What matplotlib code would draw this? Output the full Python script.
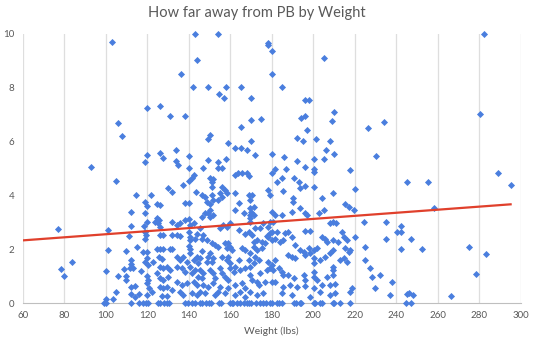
import numpy as np
import matplotlib
matplotlib.use("Agg")
from matplotlib import pyplot as plt

# (weight lbs, distance from PB) pairs, grouped roughly by height
upper_pts = [
    (102.9, 9.69), (119.8, 7.24), (105.8, 6.68), (107.8, 6.2), (119.8, 5.49), (119, 5.23), (92.8, 5.07),
    (143.1, 10), (154, 10), (143.9, 9.02), (136.2, 8.51), (142, 8.02), (149.2, 8.02), (158, 8.02),
    (165.3, 8.02), (154.8, 7.76), (157, 7.61), (169.9, 7.61), (126.1, 7.31), (130.9, 6.94), (138.3, 6.94),
    (169.9, 6.8), (174.8, 6.84), (165.3, 6.53), (150.3, 6.23), (149.2, 6.08), (158.8, 5.94), (169.9, 6.01),
    (162.4, 5.75), (165.3, 5.75), (168, 5.68), (172, 5.49), (126.1, 5.56), (127.5, 5.38), (133.9, 5.68),
    (133.9, 5.27), (135, 5.12), (140, 5.45), (149.2, 5.3), (154, 5.23), (158, 5.34), (140, 5.02),
    (146.8, 5.02), (154, 5.02), (156, 5.02),
    (178.1, 9.68), (178.1, 9.6), (180, 9.36), (205.3, 9.1), (180, 8.51), (184.9, 8.02), (196, 7.53),
    (198, 7.53), (210.1, 7.09), (194, 6.87), (196.1, 6.94), (209.1, 6.77), (197, 6.42), (192.1, 6.12),
    (195, 6.01), (201.4, 6.08), (208, 6.01), (206.2, 5.68), (210.1, 5.53), (180, 5.53), (185.8, 5.42),
    (192.1, 5.27), (200.3, 5.34), (205.3, 5.34), (181.6, 5.0), (186.8, 5.0), (196, 5.07), (200.3, 5.0),
    (217.8, 4.94), (226.3, 6.49), (234, 6.72), (230.2, 5.45), (282.4, 10), (280.3, 7.01),
    (200.1, 4.88), (245.1, 4.49), (255.2, 4.49), (288.8, 4.82), (295.2, 4.38),
]

# light side, under 145 lbs
light_pts = [
    (105, 4.52), (114.5, 4.01), (119, 3.74), (119.8, 3.6), (112.1, 3.37), (112.1, 2.85), (119.8, 3.0),
    (118.5, 2.85), (76.9, 2.74), (101, 2.7), (111.1, 2.48), (119.1, 2.37), (101, 1.96), (109.7, 1.92),
    (115, 2.07), (118.1, 1.88), (119.8, 1.88), (83.7, 1.52), (78.7, 1.26), (79.8, 0.99), (100, 1.19),
    (112.1, 1.6), (112.1, 1.46), (108.9, 1.26), (111.8, 1.31), (113.1, 1.31), (105.8, 1.0), (109.7, 1.0),
    (109.7, 0.86), (116.9, 1.19), (119.8, 1.0), (120.3, 0.87), (112.1, 0.6), (114.2, 0.64), (119.8, 0.73),
    (120.8, 0.55), (105, 0.4), (112.1, 0.32), (114.2, 0.24), (116.1, 0.32), (100, 0.14), (103.7, 0.14),
    (119, 2.65), (119.5, 2.53), (119.8, 1.66), (119, 1.54), (120.6, 1.41), (119.8, 0.3), (118.7, 3.33),
    (142.6, 4.76), (141.5, 4.64), (139.9, 4.55), (137.4, 4.39), (129.9, 4.26), (131.9, 4.12), (121.9, 4.01),
    (143.4, 4.12), (124.6, 3.7), (126.2, 3.64), (138.3, 3.73), (139.9, 3.73), (124.6, 3.15), (125.9, 3.09),
    (123.8, 3.02), (125.4, 2.96), (126.2, 2.84), (131.9, 3.02), (135.9, 2.96), (134.3, 2.9), (138.3, 3.09),
    (139.9, 3.11), (140.7, 2.9), (142.3, 2.96), (126.2, 2.53), (127.8, 2.53), (131.9, 2.53), (134.3, 2.53),
    (135.9, 2.49), (139.9, 2.65), (140.7, 2.44), (140.4, 2.34), (143.9, 2.57), (143.1, 2.4), (124.6, 2.0),
    (126.2, 2.0), (127.8, 2.0), (131, 2.0), (131.9, 2.0), (139.9, 2.12), (140.7, 2.0), (140.7, 1.85),
    (125.9, 1.7), (127, 1.64), (134.3, 1.72), (135.9, 1.6), (137.4, 1.72), (139.1, 1.54), (142.3, 1.6),
    (143.9, 1.72), (144.7, 1.48), (123, 1.54), (126.2, 1.35), (127.8, 1.29), (129.4, 1.35), (131, 1.23),
    (134.3, 1.35), (136.7, 1.29), (138.3, 1.16), (140.7, 1.35), (141.5, 1.1), (143.1, 1.23), (144.7, 0.98),
    (124.6, 1.1), (126.2, 0.92), (127.8, 0.86), (130.2, 0.98), (134.3, 0.79), (136.7, 0.67), (139.1, 0.73),
    (142.3, 0.79), (143.9, 0.67), (126.2, 0.61), (127.8, 0.55), (129.4, 0.61), (131.9, 0.48), (122.2, 0.42),
    (135.9, 0.42), (137.4, 0.3), (141.5, 0.36), (143.9, 0.3), (127, 0.26), (129.4, 0.26),
]

# middle band, 145-170 lbs
mid_pts = [
    (150.3, 4.64), (151.9, 4.61), (151.4, 4.51), (162.4, 4.76), (163.7, 4.84), (165.6, 4.82), (168, 4.82),
    (168.8, 4.72), (156, 4.32), (157.5, 4.2), (158.4, 4.08), (155.1, 4.08), (156, 3.95), (151.1, 4.32),
    (151.1, 4.01), (150.3, 3.7), (151.9, 3.83), (154.3, 3.83), (146.3, 4.01), (147.9, 3.95), (148.7, 3.77),
    (150.3, 3.46), (149.5, 3.33), (147.9, 3.33), (150.3, 3.21), (151.9, 3.27), (146.3, 3.21), (162.4, 4.08),
    (164, 3.73), (162.4, 3.46), (166.4, 3.33), (168.8, 4.01), (169.6, 3.52), (169.6, 3.27), (169.6, 3.15),
    (156.7, 2.9), (160, 2.96), (155.1, 2.78), (158.4, 2.84), (164, 2.71), (168.8, 2.65), (167.2, 2.57),
    (147.1, 2.53), (146.3, 2.4), (148.7, 2.34), (151.1, 2.22), (152.7, 2.16), (154.3, 2.09), (157.5, 2.22),
    (159.1, 2.22), (160, 2.09), (158.4, 2.03), (160.8, 1.97), (165.6, 2.03), (167.2, 1.97), (146.3, 1.94),
    (145.5, 1.66), (150.3, 1.85), (149.5, 1.72), (151.9, 1.66), (151.1, 1.54), (148.7, 1.54), (156, 1.72),
    (159.1, 1.72), (158.4, 1.6), (160, 1.48), (162.4, 1.35), (164, 1.6), (168.8, 1.6), (145.5, 1.23),
    (147.1, 1.1), (146.3, 0.92), (150.3, 1.23), (151.9, 1.1), (152.7, 0.92), (155.1, 1.29), (156, 1.1),
    (157.5, 0.98), (159.1, 0.86), (160, 1.29), (161.6, 1.16), (164.8, 1.23), (167.2, 1.29), (169.6, 1.04),
    (147.1, 0.67), (149.5, 0.61), (151.9, 0.73), (155.1, 0.61), (159.1, 0.55), (162.4, 0.67), (165.6, 0.73),
    (167.2, 0.55), (145.5, 0.42), (147.9, 0.36), (152.7, 0.3), (154.3, 0.42), (157.5, 0.36), (162.4, 0.3),
    (164.8, 0.42), (167.2, 0.24), (145.5, 2.78),
]

# heavy side, 170 lbs and up
heavy_pts = [
    (170.4, 4.01), (169.6, 3.83), (171.2, 3.58), (170.1, 3.4), (171.2, 3.27), (169.6, 3.02), (172, 2.78),
    (174.4, 2.78), (170.4, 2.53), (172.8, 2.34), (171.2, 2.28), (171.2, 2.09), (172.8, 1.97), (169.6, 1.85),
    (172, 1.72), (173.6, 1.6), (171.2, 1.48), (169.6, 1.35), (170.4, 0.86), (172.8, 0.79), (169.6, 0.42),
    (172.8, 0.3), (174.4, 1.1), (173.6, 0.67), (175.2, 2.03),
    (180, 4.82), (184.9, 4.64), (182.5, 4.51), (178.4, 4.2), (179.2, 4.01), (185.6, 4.17), (190.5, 4.64),
    (192.9, 4.51), (196.1, 4.35), (193.4, 4.26), (200.1, 4.32), (190.2, 3.89), (190.2, 3.77), (193.7, 3.52),
    (189.7, 3.4), (196.1, 3.33), (196.9, 3.27), (204.1, 3.89), (209.7, 4.08), (205.3, 3.46), (202.5, 3.33),
    (215.4, 3.7), (217, 3.58), (219.4, 3.46), (220.2, 4.23), (180, 3.4), (181.6, 3.27), (184.9, 3.27),
    (179.2, 3.02), (180.8, 3.02), (176, 2.98), (178.4, 2.84), (208.1, 2.98), (209.7, 3.02), (211, 2.98),
    (224.2, 3.02), (235.1, 3.02), (240.3, 2.65), (235.1, 2.4), (196.1, 2.69), (198.5, 2.69), (188, 2.65),
    (186.5, 2.61), (182.5, 2.65), (180, 2.65), (179.2, 2.59), (177.6, 2.49), (178.4, 2.46), (175.2, 2.28),
    (176.8, 2.22), (180, 2.34), (181.6, 2.4), (184, 2.28), (185.6, 2.34), (189.7, 2.46), (191.3, 2.16),
    (193.7, 1.97), (195.3, 1.91), (197.7, 2.03), (200.1, 1.97), (201.7, 2.03), (204.1, 2.46), (205.7, 2.4),
    (206.5, 2.28), (209.7, 2.34), (212.1, 2.28), (213.8, 2.65), (214.6, 2.46), (216.2, 2.34), (215.4, 2.03),
    (217, 1.91), (217.8, 1.97), (220.2, 2.46), (225, 2.09), (225, 1.6), (227.1, 1.29), (228.2, 0.98),
    (232.2, 1.04), (229.8, 0.55), (237.1, 0.3), (237.9, 0.79),
    (178.4, 1.54), (180, 1.41), (181.6, 1.6), (179.2, 1.29), (177.6, 1.23), (180.8, 1.23), (183.3, 1.29),
    (184.9, 1.16), (185.6, 1.04), (188, 1.78), (189.7, 1.72), (191.3, 1.66), (196.1, 1.78), (198.5, 1.85),
    (200.1, 1.66), (203.3, 1.6), (205.7, 1.72), (208.1, 1.85), (209.7, 1.97), (200.1, 1.48), (200.1, 1.16),
    (209.7, 1.35), (209.7, 1.23), (212.9, 1.6), (214.6, 1.66), (216.2, 1.54), (188, 1.04), (190.5, 0.92),
    (195.3, 1.04), (196.1, 0.86), (200.1, 0.98), (201.7, 0.86), (206.5, 0.98), (209.7, 1.04), (176.8, 0.79),
    (180, 0.79), (181.6, 0.79), (185.6, 0.61), (188.9, 0.67), (192.1, 0.61), (196.1, 0.63), (200.1, 0.55),
    (204.1, 0.67), (208.1, 0.67), (210.6, 0.71), (217.8, 0.42), (218.6, 0.55), (176, 0.36), (184.9, 0.36),
    (189.7, 0.3), (198.5, 0.24), (203.3, 0.42), (208.1, 0.3), (210.6, 0.36),
    (258.1, 3.52), (242.2, 2.85), (242.2, 2.63), (247, 2.4), (242.2, 2.0), (252.3, 2.0), (275, 2.07),
    (283.2, 1.81), (278.5, 1.07), (245.1, 0.32), (246.2, 0.36), (248, 0.29), (266.3, 0.26),
]

# lifters sitting right at their PB
at_pb_weights = [
    99.4, 100.3, 112, 116.2, 117.9, 119.6, 120.4, 125.4, 126.3, 128, 129.6, 130.5, 138, 139.7, 141.4,
    143, 145.5, 146.4, 148.1, 149.7, 150.6, 154.8, 155.6, 159.8, 160.7, 161.5, 163.2, 164.9, 166.5,
    168.2, 169.1, 169.9, 172.4, 174.1, 175.8, 177.4, 179.1, 180, 182.5, 183.3, 185, 190.8, 191.7,
    193.4, 194.2, 200.1, 200.9, 203.4, 204.3, 209.3, 210.1, 212.7, 217.7, 244.5, 247,
]

# linear trendline end points
trend_x = [60, 295]
trend_y = [2.33, 3.67]

pts = np.array(upper_pts + light_pts + mid_pts + heavy_pts)
weight = np.concatenate([pts[:, 0], at_pb_weights])
gap = np.concatenate([pts[:, 1], np.zeros(len(at_pb_weights))])

plt.rcParams['font.family'] = ['Lato', 'DejaVu Sans']
grey = '#595959'

fig = plt.figure(figsize=(5.46, 3.5), dpi=100)
ax = fig.add_axes([0.0414, 0.134, 0.9128, 0.769])

ax.scatter(weight, gap, marker='D', s=13, color='#4A7EDE', linewidths=0, zorder=3, clip_on=False)
ax.plot(trend_x, trend_y, color='#E0402C', lw=1.6, zorder=4)

ax.set_xlim(60, 300)
ax.set_ylim(0, 10)
ax.set_xticks(range(60, 301, 20))
ax.set_yticks(range(0, 11, 2))
ax.grid(axis='x', color='#DEDEDE', lw=0.9)
ax.set_axisbelow(True)
for side in ['top', 'right', 'left']:
    ax.spines[side].set_visible(False)
ax.spines['bottom'].set_color('#BFBFBF')
ax.tick_params(length=0, labelsize=7, labelcolor=grey)
ax.tick_params(axis='x', pad=6)
ax.tick_params(axis='y', pad=6)

fig.text(0.47, 0.962, 'How far away from PB by Weight', ha='center', va='center',
         fontsize=10.5, color=grey)
ax.set_xlabel('Weight (lbs)', fontsize=7.5, color=grey, labelpad=4)

fig.savefig('out.png', dpi=100)
